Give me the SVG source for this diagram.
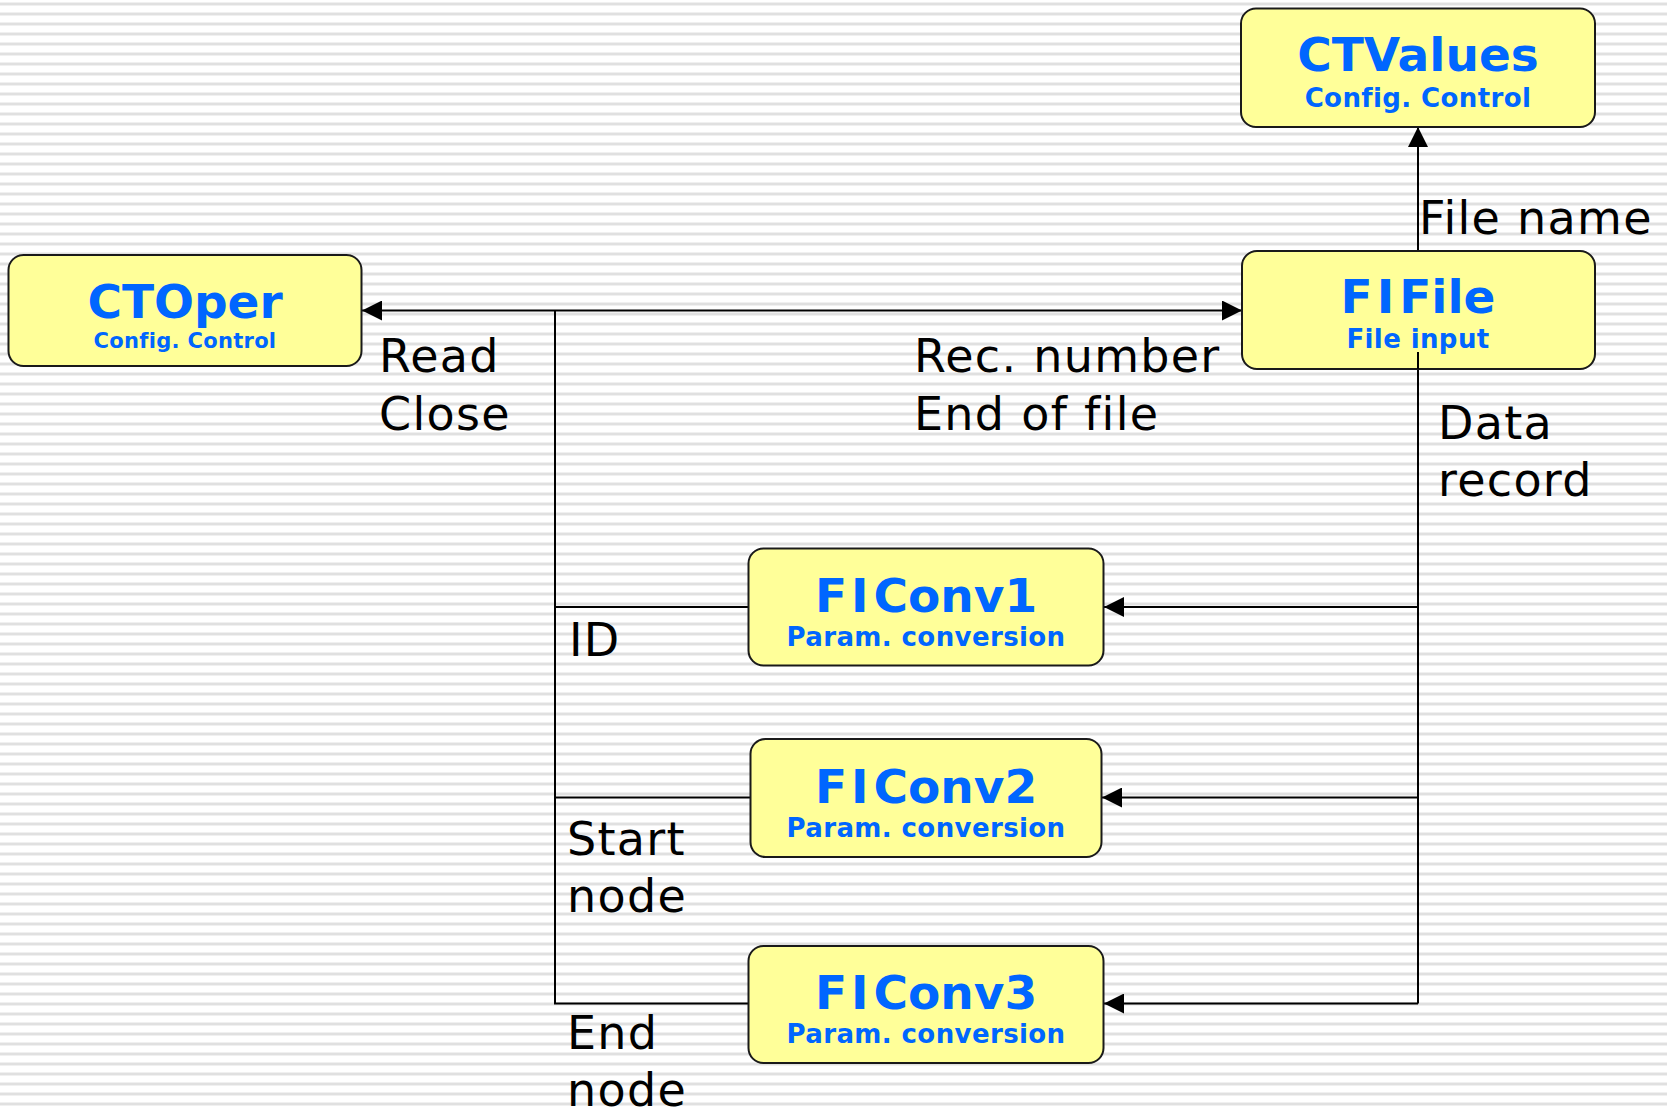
<svg xmlns="http://www.w3.org/2000/svg" width="1667" height="1112" viewBox="0 0 1667 1112">
  <defs>
    <pattern id="stripes" x="0" y="0" width="10" height="10" patternUnits="userSpaceOnUse">
      <rect x="0" y="0" width="10" height="10" fill="#ffffff"/>
      <rect x="0" y="2" width="10" height="1" fill="#f0f0f0"/>
      <rect x="0" y="3" width="10" height="2" fill="#e0e0e0"/>
      <rect x="0" y="5" width="10" height="1" fill="#f0f0f0"/>
    </pattern>
    <marker id="arrow" viewBox="0 0 20 20" markerUnits="userSpaceOnUse" markerWidth="20" markerHeight="20" refX="20" refY="10" orient="auto-start-reverse">
      <path d="M0,0 L20,10 L0,20 Z" fill="#000"/>
    </marker>
  </defs>
  <style>
    .box { fill: #ffff99; stroke: #1a1a1a; stroke-width: 2; }
    .title { font-family: "DejaVu Sans", Verdana, sans-serif; font-weight: bold; font-size: 47px; fill: #0066ff; text-anchor: middle; }
    .sub { font-family: "DejaVu Sans", Verdana, sans-serif; font-weight: bold; font-size: 26px; letter-spacing: 0.4px; fill: #0066ff; text-anchor: middle; }
    .sub-s { font-size: 21px; letter-spacing: 0.3px; }
    .lbl { font-family: "DejaVu Sans", Verdana, sans-serif; font-size: 46px; letter-spacing: 1.3px; fill: #000; }
    .conn { fill: none; stroke: #000; stroke-width: 2; }
  </style>

  <rect x="0" y="0" width="1667" height="1112" fill="url(#stripes)"/>

  <g id="connectors">
    <path class="conn" d="M1418,251 L1418,127" marker-end="url(#arrow)"/>
    <path class="conn" d="M362,310.5 L1242,310.5" marker-start="url(#arrow)" marker-end="url(#arrow)"/>
    <path class="conn" d="M555,310.5 L555,1003.5 L749,1003.5"/>
    <path class="conn" d="M555,607 L749,607"/>
    <path class="conn" d="M555,797.5 L751,797.5"/>
    <path class="conn" d="M1418,352 L1418,1003.5"/>
    <path class="conn" d="M1418,607 L1104,607" marker-end="url(#arrow)"/>
    <path class="conn" d="M1418,797.5 L1102,797.5" marker-end="url(#arrow)"/>
    <path class="conn" d="M1418,1003.5 L1104,1003.5" marker-end="url(#arrow)"/>
  </g>

  <g id="CTValues">
    <rect class="box" x="1241" y="8.5" width="354" height="118.5" rx="15"/>
    <text class="title" x="1418" y="71">CTValues</text>
    <text class="sub" x="1418" y="107">Config. Control</text>
  </g>

  <g id="FIFile">
    <rect class="box" x="1242" y="251" width="353" height="118" rx="15"/>
    <text class="title" x="1418" y="313">F<tspan dx="4">I</tspan><tspan dx="5">File</tspan></text>
    <text class="sub" x="1418" y="348">File input</text>
  </g>
  <path class="conn" d="M1418,352 L1418,369"/>

  <g id="CTOper">
    <rect class="box" x="8.5" y="255" width="353" height="111" rx="15"/>
    <text class="title" x="185" y="317.5">CTOper</text>
    <text class="sub sub-s" x="185" y="347.5">Config. Control</text>
  </g>

  <g id="FIConv1">
    <rect class="box" x="748.5" y="548.5" width="355" height="117" rx="15"/>
    <text class="title" x="926" y="612">F<tspan dx="4">I</tspan><tspan dx="5">Conv1</tspan></text>
    <text class="sub" x="926" y="646">Param. conversion</text>
  </g>

  <g id="FIConv2">
    <rect class="box" x="750.5" y="739" width="351" height="118" rx="15"/>
    <text class="title" x="926" y="802.5">F<tspan dx="4">I</tspan><tspan dx="5">Conv2</tspan></text>
    <text class="sub" x="926" y="836.5">Param. conversion</text>
  </g>

  <g id="FIConv3">
    <rect class="box" x="748.5" y="946" width="355" height="117" rx="15"/>
    <text class="title" x="926" y="1009">F<tspan dx="4">I</tspan><tspan dx="5">Conv3</tspan></text>
    <text class="sub" x="926" y="1043">Param. conversion</text>
  </g>

  <g id="labels">
    <text class="lbl" x="1419" y="234">File name</text>
    <text class="lbl" x="379" y="372">Read</text>
    <text class="lbl" x="379" y="429.5">Close</text>
    <text class="lbl" x="914" y="372">Rec. number</text>
    <text class="lbl" x="914" y="429.5">End of file</text>
    <text class="lbl" x="1438" y="439">Data</text>
    <text class="lbl" x="1438" y="496">record</text>
    <text class="lbl" x="569" y="656">ID</text>
    <text class="lbl" x="567" y="855">Start</text>
    <text class="lbl" x="567" y="912">node</text>
    <text class="lbl" x="567" y="1049">End</text>
    <text class="lbl" x="567" y="1106">node</text>
  </g>
</svg>
